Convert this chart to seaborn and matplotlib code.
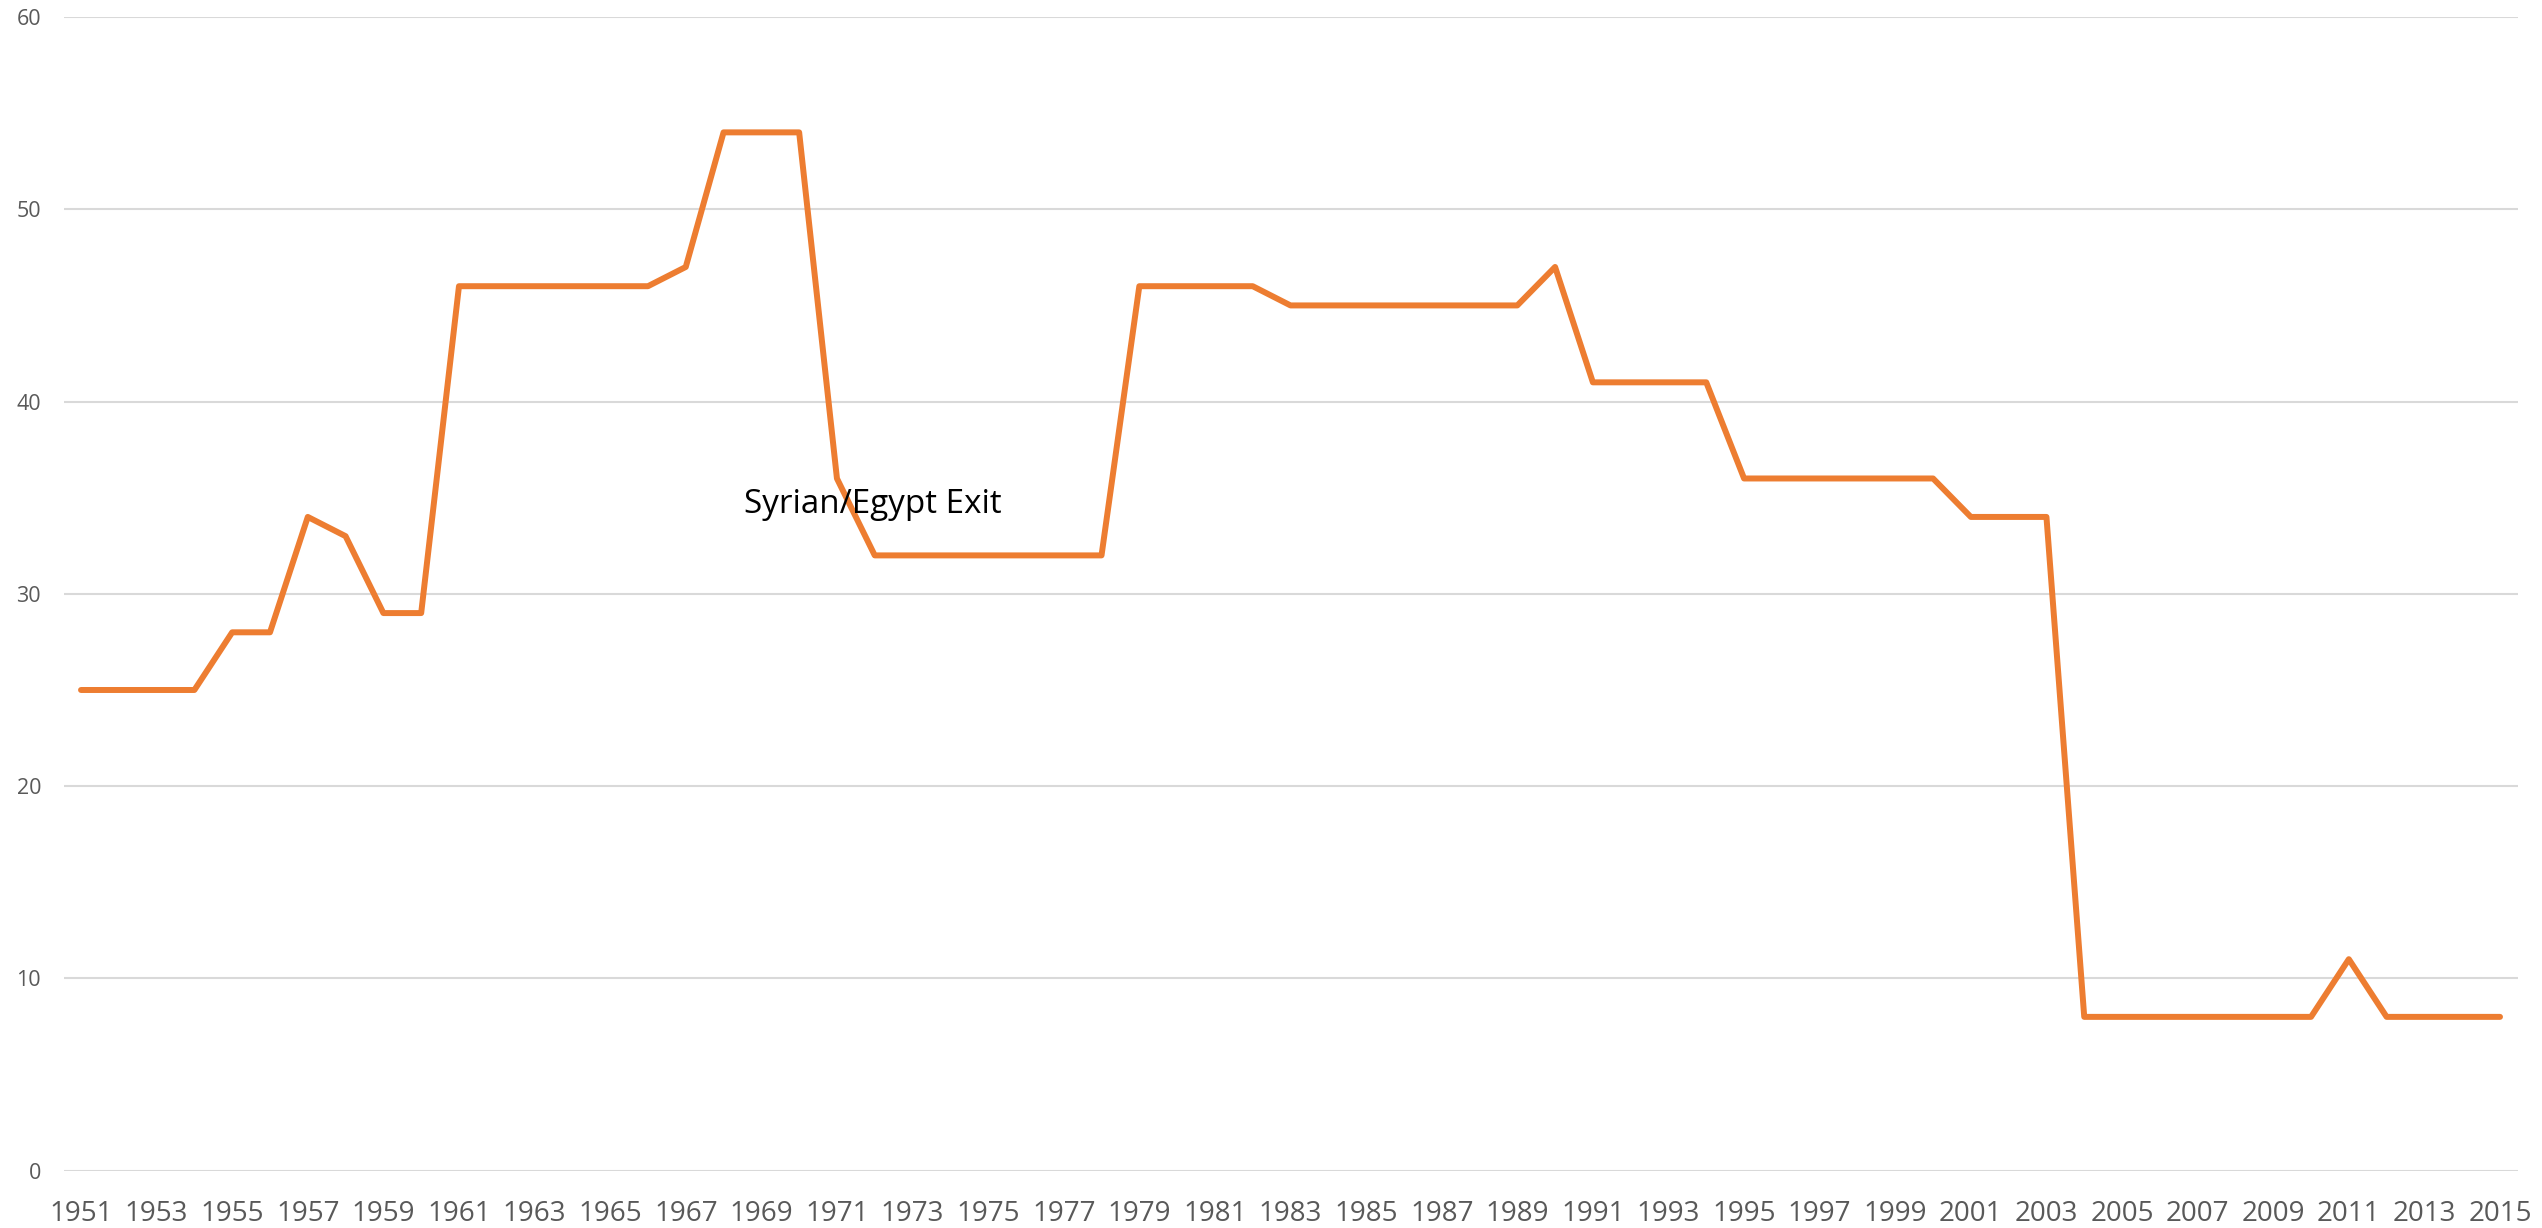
import matplotlib
matplotlib.use("Agg")
import matplotlib.pyplot as plt
import seaborn as sns
import pandas as pd

years = list(range(1951, 2016))
values = [25, 25, 25, 25, 28, 28, 34, 33, 29, 29,
          46, 46, 46, 46, 46, 46, 47, 54, 54, 54,
          36, 32, 32, 32, 32, 32, 32, 32, 46, 46,
          46, 46, 45, 45, 45, 45, 45, 45, 45, 47,
          41, 41, 41, 41, 36, 36, 36, 36, 36, 36,
          34, 34, 34, 8, 8, 8, 8, 8, 8, 8,
          11, 8, 8, 8, 8]
y_ticks = [0, 10, 20, 30, 40, 50, 60]
x_tick_years = list(range(1951, 2016, 2))
x_tick_labels = [str(y) for y in x_tick_years]
annotation_text = "Syrian/Egypt Exit"
annotation_x = 1968.55
annotation_y = 34.2

df = pd.DataFrame({"year": years, "value": values})

sns.set_style("white")
plt.rcParams['font.family'] = ['Open Sans', 'DejaVu Sans']
plt.rcParams['savefig.bbox'] = 'standard'

W, H = 2542, 1228
fig = plt.figure(figsize=(W / 100, H / 100), dpi=100)
left_px, right_px, top_px, bottom_px = 64, 2518, 17, 1170.7
ax = fig.add_axes([left_px / W, (H - bottom_px) / H,
                   (right_px - left_px) / W, (bottom_px - top_px) / H])

sns.lineplot(data=df, x="year", y="value", ax=ax, color="#ED7D31", linewidth=4.3,
             solid_capstyle="round", solid_joinstyle="round")

ax.set_xlim(1951 - 0.45, 2015 + 0.476)
ax.set_ylim(0, 60)
ax.set_yticks(y_ticks)
ax.set_xticks(x_tick_years)
ax.set_xticklabels(x_tick_labels)
ax.yaxis.grid(True, color="#D9D9D9", linewidth=1.5)
ax.xaxis.grid(False)
ax.set_axisbelow(True)
for s in ax.spines.values():
    s.set_visible(False)
ax.set_xlabel("")
ax.set_ylabel("")
ax.tick_params(axis="x", length=0, pad=21, labelsize=20, labelcolor="#595959")
ax.tick_params(axis="y", length=0, pad=16.5, labelsize=15.5, labelcolor="#595959")

ax.text(annotation_x, annotation_y, annotation_text, ha="left", va="baseline",
        fontsize=23.9, color="black")

fig.savefig("out.png", dpi=100, bbox_inches=None)
